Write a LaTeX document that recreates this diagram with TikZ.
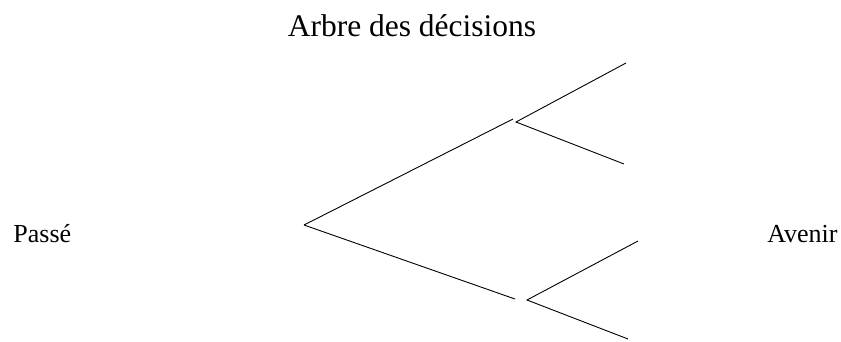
\documentclass[tikz,border=0pt]{standalone}
\usepackage{fontspec}
\setmainfont{Liberation Serif}
\begin{document}
\begin{tikzpicture}[x=1pt, y=-1pt, line width=0.9pt,
    label/.style={font=\fontsize{26}{30}\selectfont, inner sep=0pt}]
    \useasboundingbox (0,0) rectangle (841,341);
    % Title and time labels
    \node[anchor=base, inner sep=0pt, font=\fontsize{31.5}{36}\selectfont] (titre) at (412,36) {Arbre des décisions};
    \node[label, anchor=base west] (passe) at (13,242) {Passé};
    \node[label, anchor=base east] (avenir) at (838,242) {Avenir};
    % Branch points
    \coordinate (racine) at (304,225);
    \coordinate (hautfin) at (513,119);
    \coordinate (haut) at (516,122);
    \coordinate (basfin) at (515,299);
    \coordinate (bas) at (527,300);
    % Leaves
    \coordinate (hh) at (626,63);
    \coordinate (hb) at (624,164);
    \coordinate (bh) at (638,241);
    \coordinate (bb) at (628,339);
    % Branches
    \draw (racine) -- (hautfin);
    \draw (racine) -- (basfin);
    \draw (hh) -- (haut) -- (hb);
    \draw (bh) -- (bas) -- (bb);
\end{tikzpicture}
\end{document}
